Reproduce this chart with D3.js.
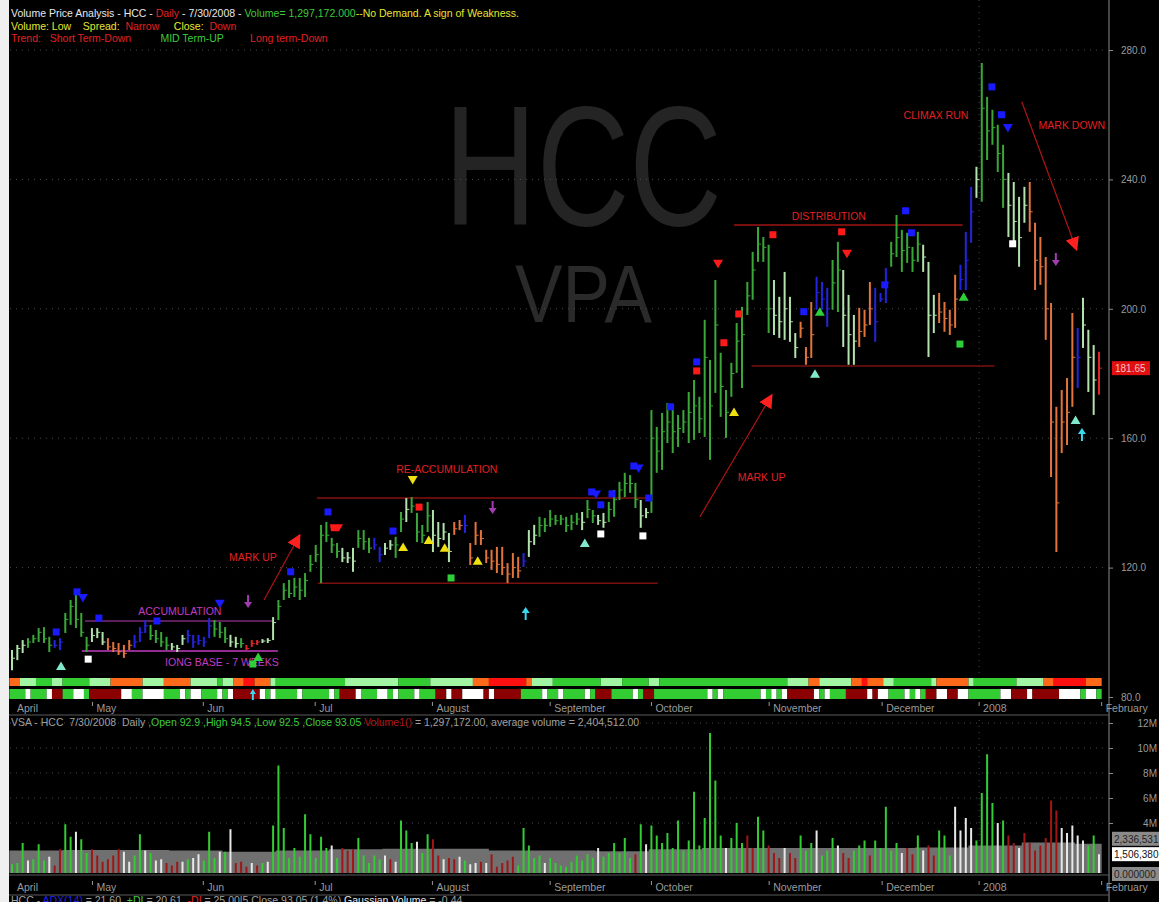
<!DOCTYPE html>
<html>
<head>
<meta charset="utf-8">
<script src="https://cdn.jsdelivr.net/npm/d3@7"></script>
<style>
  body { margin: 0; background: #000; }
  svg { display: block; font-family: "Liberation Sans", Arial, sans-serif; }
</style>
</head>
<body>
<div id="chart"></div>
<script>
// ---- price bars (HLC), one per trading day, index 0 = first April bar ----
const highs = [
  94.5,96.1,97.6,98.2,99.2,101.3,101.6,98.6,97.6,98.2,
  106.0,110.0,112.2,106.0,98.6,101.3,101.3,100.1,98.2,97.0,
  96.7,96.1,97.6,99.2,101.6,103.8,102.3,100.7,100.1,98.6,
  96.7,96.1,99.2,100.7,99.2,99.2,98.6,104.4,103.8,103.2,
  101.6,99.2,98.6,98.2,96.1,97.6,97.6,97.9,98.2,104.7,
  110.0,115.2,116.2,116.8,116.8,118.3,123.9,127.0,133.2,134.1,
  129.2,127.6,126.1,124.8,126.1,131.6,131.6,129.2,129.2,126.4,
  127.6,128.5,129.5,137.2,141.5,141.8,136.9,133.2,140.3,137.8,
  134.1,133.8,130.7,134.1,134.7,136.3,127.6,134.1,131.6,125.5,
  125.5,126.4,126.4,121.4,124.5,123.3,124.5,131.6,133.2,135.7,
  135.3,137.8,136.3,136.3,135.7,136.3,136.9,137.2,140.9,137.8,
  136.3,136.9,140.3,144.0,146.5,149.3,148.6,146.2,140.9,138.4,
  168.7,163.5,167.8,170.9,170.3,167.2,168.7,174.3,178.0,172.8,
  196.6,184.2,208.9,186.4,174.9,183.3,195.6,200.6,208.3,217.6,
  225.3,222.2,219.8,208.9,203.7,211.4,203.7,192.5,196.0,188.2,
  202.1,209.9,208.3,206.5,215.1,220.7,212.0,204.3,198.1,200.3,
  199.7,208.3,206.5,204.9,212.6,220.7,229.0,224.4,223.5,219.1,
  223.8,219.8,214.5,204.3,204.9,202.1,199.7,210.5,213.6,223.8,
  237.7,243.9,276.0,265.5,261.5,256.9,250.7,242.0,239.2,234.6,
  237.7,239.2,226.6,222.2,216.0,201.8,169.7,174.9,178.6,198.7,
  194.1,203.4,193.5,188.8,186.7
];
const lows = [
  88.3,91.4,93.6,95.2,96.7,97.0,96.7,93.9,95.2,94.5,
  99.8,102.3,101.3,98.6,93.9,97.0,98.2,96.1,94.5,93.9,
  93.0,92.1,94.5,95.2,97.0,99.8,97.6,96.7,95.5,94.5,
  94.5,93.9,96.1,96.7,95.2,96.1,95.5,98.2,98.6,98.2,
  96.7,95.5,95.2,95.2,94.5,95.5,96.1,96.7,96.7,97.6,
  103.8,110.0,110.6,110.9,110.0,110.9,118.7,121.7,115.2,127.9,
  124.5,123.0,121.7,121.4,118.7,126.1,125.5,124.5,125.5,121.7,
  123.9,125.5,123.0,131.0,134.1,136.9,127.9,127.6,131.0,124.8,
  126.4,128.5,121.7,130.1,131.6,130.7,120.8,127.0,127.0,121.4,
  119.3,118.3,117.7,115.2,116.8,116.8,120.2,123.3,127.0,129.5,
  131.0,132.6,133.2,133.2,131.0,131.6,133.2,131.6,135.3,133.8,
  133.2,132.3,134.1,135.7,140.9,141.8,143.1,138.4,132.3,135.3,
  136.9,149.3,150.2,158.5,155.4,157.3,161.6,158.5,159.5,161.6,
  160.4,153.3,174.0,166.6,160.1,172.8,180.2,175.5,198.1,202.8,
  214.5,214.5,192.5,191.9,191.0,190.4,189.8,184.8,191.0,182.7,
  184.8,199.7,199.7,194.4,199.7,199.0,188.2,182.7,182.7,188.2,
  191.3,195.0,189.8,202.1,201.8,213.0,216.0,211.4,214.2,211.4,
  214.5,211.4,185.1,192.5,195.6,192.9,191.9,194.1,205.8,205.8,
  220.4,234.3,233.1,246.0,250.7,242.3,231.2,222.2,219.1,213.0,
  226.6,223.8,205.8,207.4,190.4,148.0,124.8,155.4,157.9,169.7,
  175.5,187.9,174.3,167.2,173.4
];
const closes = [
  92,95,96,97,98,100,98,96,96,97,
  104,108,104,100,96,99,100,97,95.5,95,
  94,93.5,96,97,100,102,99,98,97,96,
  95.5,95,98,99,97,97.5,97,102,101,100,
  98,97,96.5,96.5,95,96.5,97,97.3,97.5,103,
  108,113,112,114,113,116,121,124,130,130,
  127,125,123,123,122,129,128,126,127,124,
  126,127,127,135,138,139,131,130,136,130,
  129,131,125,132,133,133,123,130,129,123,
  122,121,120,118,120,119,122,128,130,133,
  133,135,134.5,135,133,134,135,134,138,136,
  134.5,134,138,141,144,146,146,141,136,137,
  160,156,162,165,162,163,165,168,170,166,
  185,170,195,176,168,180,190,192,204,212,
  220,219,200,198,196,200,196,188,194,185,
  192,205,203,200,208,212,198,192,190,193,
  195,200,196,203,208,217,222,218,219,215,
  220,216,198,198,199,197,195,203,209,215,
  230,240,262,255,256,248,240,232,227,222,
  232,230,215,213,200,165,140,165,168,185,
  185,195,185,178,181.65
];
// bar colour codes: G up, L light, O orange, B blue, R red
const barCodes = ("LLL GGGGG BB GGGGG LLL OOOOO BBB GGGG LLL BBBBB GGG LL G RRR LLL " +
  "GGGGGGGGGGGG LLL GGG BB LL GG L GGGG LLLL OO B OOOOOOOOOO B LL GGGGGGGG L GG LL GGGGGG LL " +
  "GGGGGGGGGGGGGGGGGGGGGGG LLLLL OOO BBB GG LLL OOO BBB GGGGGG LLL OOOO BBB L GGGGG LLLL " +
  "OOOOOOOOO B LLL R").replace(/ /g, "").split("");

// ---- volume (millions) ----
const volumes = [
  0.7,0.8,2.4,1.0,1.1,2.3,1.0,1.3,0.6,1.9,
  3.9,2.9,3.3,2.7,1.6,1.9,1.4,0.9,1.1,1.4,
  1.9,1.7,0.9,1.4,3.1,1.8,1.6,1.0,1.1,0.8,
  0.6,0.9,0.9,1.1,1.2,1.5,1.0,3.3,1.2,1.7,
  1.7,3.5,0.8,0.9,0.5,0.8,0.6,0.8,0.9,3.8,
  8.6,3.6,1.2,2.0,1.3,4.7,3.1,1.2,2.9,2.0,
  2.2,1.2,2.0,1.8,1.9,2.8,1.4,0.8,1.4,1.1,
  1.4,1.1,0.9,4.2,3.4,2.4,2.5,1.6,3.1,2.7,
  1.4,1.1,1.2,1.1,1.3,1.0,0.7,0.8,0.9,0.8,
  1.5,0.5,0.8,1.0,1.3,0.6,3.6,2.2,1.2,1.4,
  0.8,1.2,0.8,0.6,0.5,0.9,1.4,1.0,1.5,1.2,
  2.0,1.3,1.6,2.4,1.6,2.8,1.2,1.5,3.9,2.3,
  3.8,3.0,2.4,3.2,2.0,4.2,1.8,2.6,6.5,2.2,
  4.4,11.2,7.4,3.0,2.0,2.8,4.0,2.4,3.0,2.0,
  4.5,3.4,2.2,1.6,1.2,2.0,1.6,1.2,3.0,1.8,
  2.4,3.4,1.4,1.8,2.8,2.2,1.6,1.2,1.8,2.2,
  2.6,1.4,2.6,2.0,5.3,1.8,2.4,1.6,2.0,1.5,
  3.0,1.8,2.2,1.4,3.4,3.0,1.4,5.3,3.4,4.4,
  3.6,2.6,6.4,9.5,5.6,4.0,4.2,3.0,2.4,2.0,
  3.2,2.4,1.8,2.2,2.8,5.8,5.0,3.6,3.2,3.8,
  3.0,2.6,2.2,3.0,1.50638
];
const volCodes = ("GGGWGGGWRR GGWGGRRRRR RWWGGWGWWR RRWGWWGGGW GWRRRWRGWG GGGGGGGGGG " +
  "WGRRRGGGGG WRWGGGWGGR RWRRWGWWRW RRRRRGGGGG WGGGGGGGGG WGGGGGGRGW GGGGGGGGGG " +
  "GGGGWGGGRR GGRRRWRRGG GWGGGWRRGG GRGGGGGWRR GWRRGGGWWW WGGGGWGRRW RRRRRRRWWW WWGGW")
  .replace(/ /g, "").split("");
// average volume (step every 10 bars)
const avgVolIdx = [0,10,20,30,40,50,60,70,80,90,100,110,120,130,140,150,160,170,180,190,200,205];
const avgVol    = [1.8,1.85,1.85,1.8,1.7,1.8,1.9,1.95,1.95,1.8,1.8,1.75,1.9,2.0,2.0,2.0,2.0,2.05,2.2,2.45,2.336531,2.336531];

// ---- signal strips: [start bar, code] ----
const stripTop = [[0,'O'],[2,'L'],[5,'G'],[8,'L'],[10,'G'],[15,'L'],[19,'O'],[25,'L'],[29,'O'],[34,'L'],
  [39,'G'],[40,'L'],[42,'O'],[44,'R'],[46,'O'],[49,'L'],[50,'G'],[63,'L'],[73,'G'],[79,'L'],[87,'O'],
  [90,'R'],[97,'O'],[98,'L'],[102,'G'],[111,'L'],[115,'G'],[120,'L'],[122,'G'],[146,'L'],[150,'O'],
  [152,'L'],[158,'O'],[160,'R'],[161,'O'],[164,'L'],[166,'G'],[173,'L'],[174,'O'],[180,'L'],[181,'G'],
  [189,'L'],[194,'O'],[196,'R'],[202,'O']];
const stripBottom = [[0,'G'],[3,'W'],[4,'G'],[7,'W'],[8,'D'],[10,'G'],[12,'W'],[14,'G'],[15,'D'],[21,'W'],
  [23,'G'],[25,'W'],[29,'G'],[32,'W'],[33,'G'],[34,'W'],[36,'G'],[39,'W'],[40,'G'],[41,'W'],[42,'D'],
  [47,'W'],[48,'G'],[49,'W'],[50,'G'],[54,'W'],[55,'G'],[60,'W'],[61,'G'],[62,'D'],[65,'W'],[66,'G'],
  [69,'W'],[71,'G'],[72,'W'],[73,'G'],[76,'W'],[77,'G'],[80,'D'],[82,'W'],[83,'D'],[85,'W'],[89,'D'],
  [90,'W'],[91,'D'],[96,'G'],[100,'W'],[101,'G'],[103,'W'],[104,'G'],[108,'W'],[109,'G'],[110,'D'],
  [113,'G'],[117,'W'],[118,'G'],[119,'D'],[121,'G'],[131,'W'],[132,'G'],[133,'W'],[134,'G'],[141,'W'],
  [142,'G'],[143,'W'],[144,'G'],[145,'W'],[146,'D'],[151,'W'],[152,'G'],[153,'W'],[154,'G'],[157,'D'],
  [161,'W'],[162,'D'],[163,'W'],[165,'G'],[168,'W'],[169,'G'],[170,'W'],[171,'G'],[172,'D'],[174,'W'],
  [176,'D'],[178,'W'],[180,'G'],[186,'W'],[188,'D'],[191,'W'],[192,'D'],[197,'W'],[201,'G'],[202,'W'],[204,'G']];

// ---- signals on the price panel: [bar, price, kind] ----
const signals = [
  [12.2,112.5,'sqB'],[13.3,110.6,'tdB'],[8.3,100.1,'sqB'],[9.2,89.6,'tuT'],[16.3,104.4,'sqB'],
  [14.3,91.7,'sqW'],[27.2,103.5,'sqB'],[39.0,108.8,'tdB'],[44.3,109.4,'dnP'],[52.3,118.7,'sqB'],
  [45.2,90.2,'sqG'],[46.2,92.4,'tuG'],
  [59.3,137.2,'sqB'],[60.8,132.3,'flR'],[71.5,131.3,'sqB'],[73.4,126.4,'tuY'],[75.2,147.1,'tdY'],
  [76.4,138.7,'sqR'],[78.2,128.5,'tuY'],[81.2,126.1,'tuY'],[90.2,138.4,'dnP'],[87.4,122.1,'tuY'],
  [82.4,116.8,'sqG'],[96.4,106.0,'upC'],[107.5,127.6,'tuT'],[110.5,130.4,'sqW'],[110.5,139.4,'sqB'],
  [108.8,143.4,'sqB'],[109.6,142.6,'tdB'],[112.6,142.8,'sqB'],[116.7,151.4,'sqB'],[117.6,150.6,'tdB'],
  [119.5,141.5,'sqB'],[118.4,129.8,'sqW'],
  [123.6,169.7,'sqB'],[128.5,183.6,'sqB'],[128.5,180.8,'sqR'],[132.5,213.9,'tdR'],[133.6,189.5,'sqR'],
  [135.5,168.1,'tuY'],[136.4,198.4,'sqR'],[142.8,222.9,'sqR'],[148.6,199.1,'sqB'],[151.6,199.1,'tuG'],
  [150.7,179.9,'tuT'],[155.7,223.8,'sqR'],[156.7,217.0,'tdR'],[163.8,207.4,'sqB'],[167.7,230.3,'sqB'],
  [168.8,223.5,'sqB'],[178.6,203.7,'tuG'],[177.9,189.1,'sqG'],[187.8,220.1,'sqW'],[183.9,268.6,'sqB'],
  [185.7,260.0,'sqB'],[186.9,255.9,'tdB'],[195.9,215.1,'dnP'],[199.6,165.6,'tuT'],[200.8,161.3,'upC']
];
// support / resistance lines: [from bar, to bar, price, colour]
const levels = [
  [13.7,48.8,103.5,'#7a2a7a'],[13.1,49.9,94.2,'#c23cc2'],
  [57.2,119.3,141.5,'#8a1010'],[57.4,121.2,115.2,'#7a1010'],
  [135.5,178.4,225.9,'#a01414'],[138.8,184.4,182.3,'#7a1010']
];
// annotations: [bar, price, text, colour]
const notes = [
  [31.5,106.6,'ACCUMULATION','#c23cc2'],
  [39.4,90.8,'IONG BASE - 7 WEEKS','#c23cc2'],
  [45.2,123.3,'MARK UP','#e02020'],
  [81.6,150.5,'RE-ACCUMULATION','#e02020'],
  [140.7,148.0,'MARK UP','#e02020'],
  [153.3,228.7,'DISTRIBUTION','#e02020'],
  [173.4,260.0,'CLIMAX RUN','#e02020'],
  [198.9,256.9,'MARK DOWN','#e02020']
];
const trendArrows = [
  [47.3,110.0,54.0,130.1],
  [129.1,135.7,142.6,173.4],
  [189.5,264.0,199.8,218.2]
];

// ---- axes ----
const monthLabels = ['May','Jun','Jul','August','September','October','November','December','2008','February'];
const monthIdx = [15.6,36.4,57.4,79.4,101.5,120.5,142.6,163.8,182,205];
const priceTicks = [80,120,160,200,240,280];
const volTicks = [4,6,8,10,12];

const W = 1159, H = 902;
const x = d3.scaleLinear().domain([0, 204]).range([12, 1099]);
const half = (x(1) - x(0)) / 2;
const yP = d3.scaleLinear().domain([80, 280]).range([697, 50]);
const yV = d3.scaleLinear().domain([0, 12]).range([873, 723]);

const barPalette = {G:'#3aa838', L:'#b3e3ad', O:'#e2743c', B:'#2424e0', R:'#e02424'};
const volPalette = {G:'#33cc33', W:'#e8e8e8', R:'#a01616'};
const topPalette = {O:'#ff6a1a', L:'#a2f5a2', G:'#33cc33', R:'#ff1010'};
const botPalette = {G:'#33cc33', W:'#ffffff', D:'#8b0000'};

const svg = d3.select('#chart').append('svg').attr('width', W).attr('height', H);
svg.append('rect').attr('width', W).attr('height', H).attr('fill', '#000');
svg.append('rect').attr('width', 9).attr('height', H).attr('fill', '#f0f0f0');

// watermark
svg.append('text').attr('x', 444).attr('y', 225).attr('font-size', 170)
  .attr('textLength', 278).attr('lengthAdjust', 'spacingAndGlyphs')
  .attr('fill', '#242424').text('HCC');
svg.append('text').attr('x', 515).attr('y', 322).attr('font-size', 82)
  .attr('textLength', 137).attr('lengthAdjust', 'spacingAndGlyphs')
  .attr('fill', '#2a2a2a').text('VPA');

// gridlines
svg.append('g').selectAll('line').data(priceTicks.slice(1)).join('line')
  .attr('x1', 10).attr('x2', 1108).attr('y1', d => yP(d)).attr('y2', d => yP(d))
  .attr('stroke', '#4a4a4a').attr('stroke-dasharray', '1,5');
svg.append('g').selectAll('line').data(volTicks).join('line')
  .attr('x1', 10).attr('x2', 1108).attr('y1', d => yV(d)).attr('y2', d => yV(d))
  .attr('stroke', '#4a4a4a').attr('stroke-dasharray', '1,5');
[[0, 676], [720, 872]].forEach(([a, b]) => {
  svg.append('line').attr('x1', x(monthIdx[8]) - half).attr('x2', x(monthIdx[8]) - half)
    .attr('y1', a).attr('y2', b).attr('stroke', '#4a4a4a').attr('stroke-dasharray', '1,5');
});

// levels
svg.append('g').selectAll('line').data(levels).join('line')
  .attr('x1', d => x(d[0])).attr('x2', d => x(d[1]))
  .attr('y1', d => yP(d[2])).attr('y2', d => yP(d[2]))
  .attr('stroke', d => d[3]).attr('stroke-width', 1.5);

// price bars
const bars = highs.map((h, i) => ({i, h, l: lows[i], c: closes[i], k: barCodes[i]}));
const gBars = svg.append('g');
gBars.append('g').selectAll('line').data(bars).join('line')
  .attr('x1', d => x(d.i)).attr('x2', d => x(d.i))
  .attr('y1', d => yP(d.h)).attr('y2', d => yP(d.l))
  .attr('stroke', d => barPalette[d.k]).attr('stroke-width', 2);
gBars.append('g').selectAll('line').data(bars).join('line')
  .attr('x1', d => x(d.i)).attr('x2', d => x(d.i) + 3)
  .attr('y1', d => yP(d.c)).attr('y2', d => yP(d.c))
  .attr('stroke', d => barPalette[d.k]).attr('stroke-width', 1);

// arrows
const defs = svg.append('defs');
defs.append('marker').attr('id', 'head').attr('viewBox', '0 0 10 10').attr('refX', 9).attr('refY', 5)
  .attr('markerWidth', 14).attr('markerHeight', 14).attr('markerUnits', 'userSpaceOnUse')
  .attr('orient', 'auto').append('path').attr('d', 'M0,0L10,5L0,10Z').attr('fill', '#ff2020');
svg.append('g').selectAll('line').data(trendArrows).join('line')
  .attr('x1', d => x(d[0])).attr('y1', d => yP(d[1]))
  .attr('x2', d => x(d[2])).attr('y2', d => yP(d[3]))
  .attr('stroke', '#b01414').attr('stroke-width', 1.2).attr('marker-end', 'url(#head)');

// notes
svg.append('g').selectAll('text').data(notes).join('text')
  .attr('x', d => x(d[0])).attr('y', d => yP(d[1]) + 4)
  .attr('text-anchor', 'middle').attr('font-size', 10.5)
  .attr('fill', d => d[3]).text(d => d[2]);

// signals
const sigColor = {B:'#1a1aff', R:'#ff1a1a', W:'#ffffff', G:'#2fcf3a', T:'#80e8cc', Y:'#f0e010', P:'#a03cb0', C:'#38d8f0'};
const gSig = svg.append('g');
signals.forEach(([i, p, k]) => {
  const cx = x(i), cy = yP(p), col = sigColor[k[2]], kind = k.slice(0, 2);
  if (kind === 'sq') {
    gSig.append('rect').attr('x', cx - 3.5).attr('y', cy - 3.5).attr('width', 7).attr('height', 7).attr('fill', col);
  } else if (kind === 'tu') {
    gSig.append('path').attr('d', `M${cx},${cy - 4.5}L${cx + 5},${cy + 4}L${cx - 5},${cy + 4}Z`).attr('fill', col);
  } else if (kind === 'td') {
    gSig.append('path').attr('d', `M${cx - 5},${cy - 4}L${cx + 5},${cy - 4}L${cx},${cy + 4.5}Z`).attr('fill', col);
  } else if (kind === 'fl') {
    gSig.append('path').attr('d', `M${cx - 6},${cy - 3.5}L${cx + 7},${cy - 3.5}L${cx + 3},${cy + 3.5}L${cx - 5},${cy + 3.5}Z`).attr('fill', col);
  } else if (kind === 'dn') {
    gSig.append('path').attr('d', `M${cx - 1},${cy - 7}L${cx + 1},${cy - 7}L${cx + 1},${cy}L${cx + 4},${cy}L${cx},${cy + 6}L${cx - 4},${cy}L${cx - 1},${cy}Z`).attr('fill', col);
  } else if (kind === 'up') {
    gSig.append('path').attr('d', `M${cx - 1},${cy + 7}L${cx + 1},${cy + 7}L${cx + 1},${cy}L${cx + 4},${cy}L${cx},${cy - 6}L${cx - 4},${cy}L${cx - 1},${cy}Z`).attr('fill', col);
  }
});

// signal strips
function drawStrip(runs, palette, y0, h) {
  svg.append('g').selectAll('rect').data(runs).join('rect')
    .attr('x', d => x(d[0]) - half)
    .attr('width', (d, j) => x(j + 1 < runs.length ? runs[j + 1][0] : highs.length) - x(d[0]))
    .attr('y', y0).attr('height', h)
    .attr('fill', d => palette[d[1]]);
}
drawStrip(stripTop, topPalette, 678, 8);
drawStrip(stripBottom, botPalette, 689, 10);
{
  const cx = x(45.2), cy = 694;
  svg.append('path').attr('d', `M${cx - 1},${cy + 6}L${cx + 1},${cy + 6}L${cx + 1},${cy}L${cx + 3},${cy}L${cx},${cy - 5}L${cx - 3},${cy}L${cx - 1},${cy}Z`).attr('fill', sigColor.C);
}

// volume panel
const area = d3.area().curve(d3.curveStepAfter)
  .x((d, j) => x(avgVolIdx[j]) - half).y0(yV(0)).y1(d => yV(d));
svg.append('path').datum(avgVol).attr('d', area).attr('fill', '#707070');
svg.append('g').selectAll('line').data(volumes).join('line')
  .attr('x1', (d, i) => x(i)).attr('x2', (d, i) => x(i))
  .attr('y1', yV(0)).attr('y2', d => yV(d))
  .attr('stroke', (d, i) => volPalette[volCodes[i]]).attr('stroke-width', 2);

// frame lines
svg.append('line').attr('x1', 1109).attr('x2', 1109).attr('y1', 0).attr('y2', H).attr('stroke', '#8a8a8a');
[715, 875, 895].forEach(y => svg.append('line').attr('x1', 9).attr('x2', 1109)
  .attr('y1', y).attr('y2', y).attr('stroke', '#5a5a5a'));

// price axis
const pAxis = svg.append('g').attr('transform', 'translate(1109,0)')
  .call(d3.axisRight(yP).tickValues(priceTicks).tickFormat(d3.format('.1f')).tickSize(4).tickPadding(8));
pAxis.select('.domain').remove();
pAxis.selectAll('line').attr('stroke', '#8a8a8a');
pAxis.selectAll('text').attr('fill', '#9a9a9a').attr('font-size', 10).attr('font-family', 'Liberation Sans, Arial, sans-serif');

const vAxis = svg.append('g').attr('transform', 'translate(1109,0)')
  .call(d3.axisRight(yV).tickValues(volTicks).tickFormat(d => d + 'M').tickSize(4));
vAxis.select('.domain').remove();
vAxis.selectAll('line').attr('stroke', '#8a8a8a');
vAxis.selectAll('text').attr('fill', '#9a9a9a').attr('font-size', 10).attr('text-anchor', 'end')
  .attr('x', 48).attr('font-family', 'Liberation Sans, Arial, sans-serif');

// value badges
function badge(y, text, bg, fg) {
  svg.append('rect').attr('x', 1112).attr('y', y - 7).attr('width', 60).attr('height', 14).attr('fill', bg);
  svg.append('text').attr('x', 1114).attr('y', y + 4).attr('font-size', 10).attr('fill', fg).text(text);
}
const lastClose = closes[closes.length - 1];
svg.append('rect').attr('x', 1112).attr('y', yP(lastClose) - 7).attr('width', 38).attr('height', 14).attr('fill', '#e01010');
svg.append('text').attr('x', 1115).attr('y', yP(lastClose) + 4).attr('font-size', 10)
  .attr('fill', '#f0c0c0').text(d3.format('.2f')(lastClose));
badge(yV(avgVol[avgVol.length - 1]) - 5, d3.format(',.0f')(avgVol[avgVol.length - 1] * 1e6), '#8a8a8a', '#222');
badge(yV(volumes[volumes.length - 1]), d3.format(',.0f')(volumes[volumes.length - 1] * 1e6), '#ffffff', '#111');
badge(yV(0) + 1, '0.000000', '#8a8a8a', '#222');

// month axes
function monthAxis(yTick, yText) {
  const g = svg.append('g');
  g.append('text').attr('x', x(0) + 5).attr('y', yText).attr('font-size', 10.5).attr('fill', '#9a9a9a').text('April');
  g.selectAll('line').data(monthIdx).join('line')
    .attr('x1', d => x(d) - half).attr('x2', d => x(d) - half)
    .attr('y1', yTick).attr('y2', yTick + 4).attr('stroke', '#9a9a9a');
  g.selectAll('text.m').data(monthLabels).join('text').attr('class', 'm')
    .attr('x', (d, j) => x(monthIdx[j]) - half + 4).attr('y', yText)
    .attr('font-size', 10.5).attr('fill', '#9a9a9a').text(d => d);
}
monthAxis(702, 712);
monthAxis(881, 891);

// header lines
const sp = n => '\u00a0'.repeat(n);
function line(y, parts) {
  const t = svg.append('text').attr('x', 11).attr('y', y).attr('font-size', 10.5);
  parts.forEach(([s, c]) => t.append('tspan').attr('fill', c).text(s));
}
line(17, [['Volume Price Analysis - HCC - ', '#e8e8e8'], ['Daily', '#e02020'], [' - 7/30/2008 - ', '#e8e8e8'],
  ['Volume= 1,297,172.000', '#3ccc3c'], ['--No Demand. A sign of Weakness.', '#e6e632']]);
line(30, [['Volume: Low', '#e6e632'], [sp(4) + 'Spread:' + sp(2), '#e6e632'], ['Narrow', '#e02020'],
  [sp(5) + 'Close:' + sp(2), '#e6e632'], ['Down', '#e02020']]);
line(42, [['Trend:' + sp(3) + 'Short Term-Down', '#e02020'], [sp(10) + 'MID Term-UP', '#3ccc3c'],
  [sp(9) + 'Long term-Down', '#e02020']]);
line(726, [['VSA - HCC' + sp(2) + '7/30/2008' + sp(2) + 'Daily ', '#a0a0a0'], [',Open 92.9 ,High 94.5 ,Low 92.5 ,Close 93.05 ', '#3ccc3c'],
  ['Volume1()', '#b01818'], [' = 1,297,172.00, average volume = 2,404,512.00', '#a0a0a0']]);
line(904, [['HCC - ', '#a0a0a0'], ['ADX(14)', '#2424e0'], [' = 21.60' + sp(2), '#a0a0a0'], ['+DI', '#3ccc3c'],
  [' = 20.61' + sp(2), '#a0a0a0'], ['-DI', '#e02020'], [' = 25.00|5 Close 93.05 (1.4%) ', '#a0a0a0'],
  ['Gaussian Volume', '#e8e8e8'], [' = -0.44', '#a0a0a0']]);
</script>
</body>
</html>
